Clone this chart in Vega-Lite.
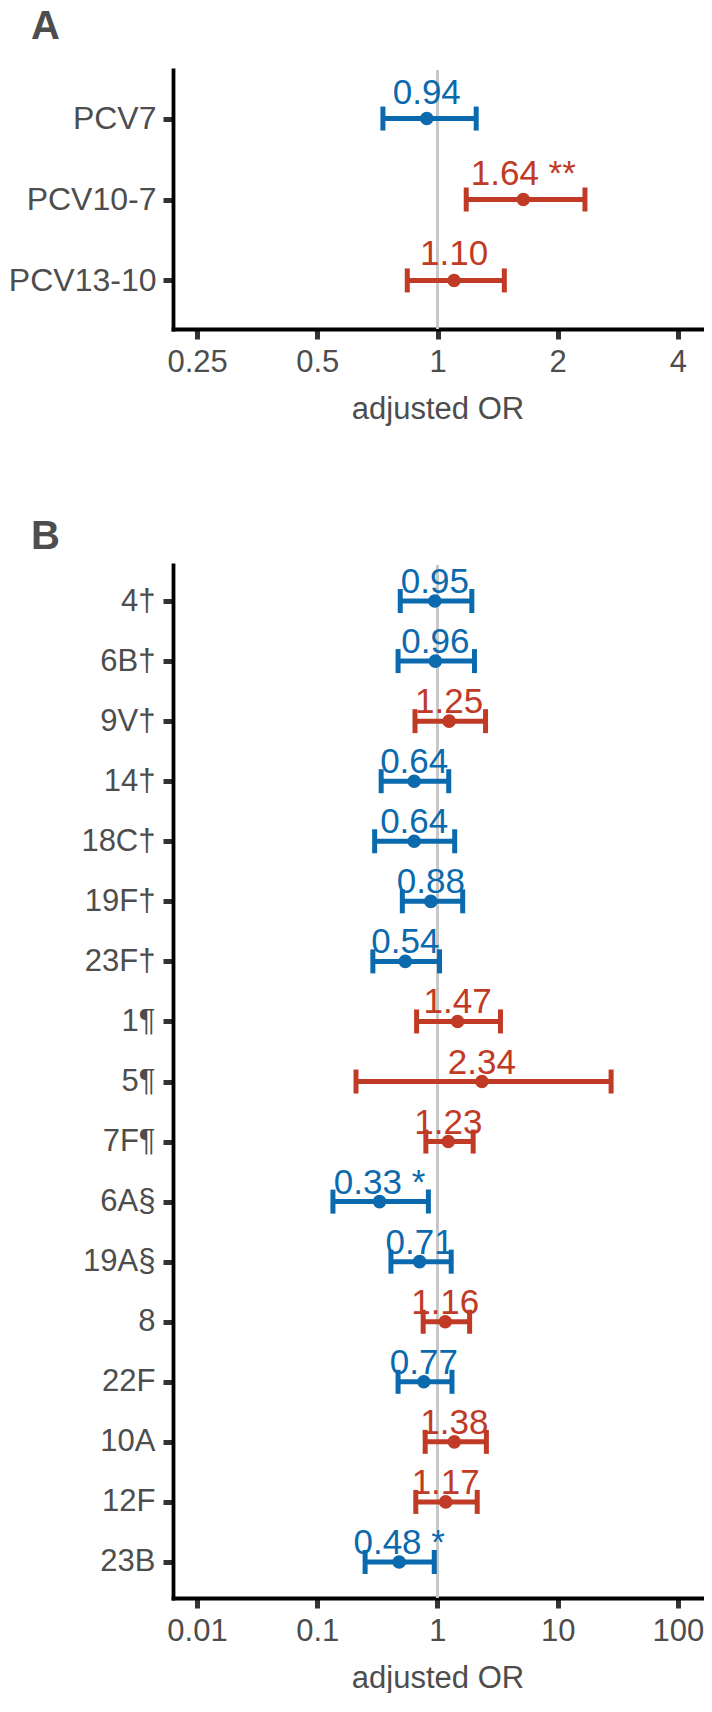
{
  "$schema": "https://vega.github.io/schema/vega-lite/v6.json",
  "background": "white",
  "padding": {"left": 8, "top": 6, "right": 0, "bottom": 0},
  "spacing": 92,
  "config": {
    "view": {"stroke": null},
    "font": "Liberation Sans",
    "axis": {
      "grid": false,
      "domainColor": "#000000",
      "domainWidth": 3.8,
      "domainCap": "square",
      "tickColor": "#333333",
      "tickWidth": 5,
      "tickSize": 10,
      "labelColor": "#4d4d4d",
      "labelFont": "Liberation Sans",
      "titleColor": "#4d4d4d",
      "titleFont": "Liberation Sans",
      "titleFontWeight": "normal"
    }
  },
  "resolve": {"scale": {"x": "independent", "y": "independent"}},
  "datasets": {
    "a": [
      {"group": "PCV7", "or": 0.94, "lo": 0.73, "hi": 1.25, "label": "0.94", "dir": "decreased"},
      {"group": "PCV10-7", "or": 1.64, "lo": 1.18, "hi": 2.34, "label": "1.64 **", "dir": "increased"},
      {"group": "PCV13-10", "or": 1.10, "lo": 0.84, "hi": 1.47, "label": "1.10", "dir": "increased"}
    ],
    "b": [
      {"group": "4†", "or": 0.95, "lo": 0.49, "hi": 1.93, "label": "0.95", "dir": "decreased"},
      {"group": "6B†", "or": 0.96, "lo": 0.47, "hi": 2.03, "label": "0.96", "dir": "decreased"},
      {"group": "9V†", "or": 1.25, "lo": 0.65, "hi": 2.51, "label": "1.25", "dir": "increased"},
      {"group": "14†", "or": 0.64, "lo": 0.34, "hi": 1.24, "label": "0.64", "dir": "decreased"},
      {"group": "18C†", "or": 0.64, "lo": 0.30, "hi": 1.39, "label": "0.64", "dir": "decreased"},
      {"group": "19F†", "or": 0.88, "lo": 0.51, "hi": 1.62, "label": "0.88", "dir": "decreased"},
      {"group": "23F†", "or": 0.54, "lo": 0.29, "hi": 1.04, "label": "0.54", "dir": "decreased"},
      {"group": "1¶", "or": 1.47, "lo": 0.67, "hi": 3.34, "label": "1.47", "dir": "increased"},
      {"group": "5¶", "or": 2.34, "lo": 0.21, "hi": 27.8, "label": "2.34", "dir": "increased"},
      {"group": "7F¶", "or": 1.23, "lo": 0.80, "hi": 1.98, "label": "1.23", "dir": "increased"},
      {"group": "6A§", "or": 0.33, "lo": 0.135, "hi": 0.84, "label": "0.33 *", "dir": "decreased"},
      {"group": "19A§", "or": 0.71, "lo": 0.41, "hi": 1.30, "label": "0.71", "dir": "decreased"},
      {"group": "8", "or": 1.16, "lo": 0.76, "hi": 1.85, "label": "1.16", "dir": "increased"},
      {"group": "22F", "or": 0.77, "lo": 0.47, "hi": 1.32, "label": "0.77", "dir": "decreased"},
      {"group": "10A", "or": 1.38, "lo": 0.79, "hi": 2.55, "label": "1.38", "dir": "increased"},
      {"group": "12F", "or": 1.17, "lo": 0.66, "hi": 2.14, "label": "1.17", "dir": "increased"},
      {"group": "23B", "or": 0.48, "lo": 0.25, "hi": 0.94, "label": "0.48 *", "dir": "decreased"}
    ]
  },
  "vconcat": [
    {
      "width": 529,
      "height": 259,
      "title": {"text": "A", "anchor": "start", "frame": "group", "dx": -142, "fontSize": 40, "fontWeight": "bold", "color": "#4d4d4d", "font": "Liberation Sans", "baseline": "top", "offset": 22},
      "data": {"name": "a"},
      "layer": [
        {
          "mark": {"type": "rule", "color": "#c8c8c8", "strokeWidth": 3},
          "encoding": {"x": {"datum": 1, "type": "quantitative", "title": "adjusted OR"}}
        },
        {
          "mark": {"type": "rule", "strokeWidth": 5},
          "encoding": {
            "x": {"field": "lo", "type": "quantitative", "title": "adjusted OR",
              "scale": {"type": "log", "base": 2, "domain": [0.2176, 4.595], "nice": false},
              "axis": {"values": [0.25, 0.5, 1, 2, 4], "format": "~g", "labelFontSize": 31, "titleFontSize": 31, "labelPadding": 8, "titlePadding": 17}},
            "x2": {"field": "hi"},
            "y": {"field": "group", "type": "nominal", "sort": null, "title": null,
              "scale": {"type": "point", "padding": 0.6},
              "axis": {"labelFontSize": 32, "labelPadding": 7}},
            "color": {"field": "dir", "type": "nominal", "scale": {"domain": ["decreased", "increased"], "range": ["#0b6aae", "#c03a26"]}, "legend": null}
          }
        },
        {
          "mark": {"type": "tick", "size": 24, "thickness": 5, "opacity": 1},
          "encoding": {
            "x": {"field": "lo", "type": "quantitative", "title": "adjusted OR"},
            "y": {"field": "group", "type": "nominal", "sort": null, "title": null},
            "color": {"field": "dir", "type": "nominal", "legend": null}
          }
        },
        {
          "mark": {"type": "tick", "size": 24, "thickness": 5, "opacity": 1},
          "encoding": {
            "x": {"field": "hi", "type": "quantitative", "title": "adjusted OR"},
            "y": {"field": "group", "type": "nominal", "sort": null, "title": null},
            "color": {"field": "dir", "type": "nominal", "legend": null}
          }
        },
        {
          "mark": {"type": "circle", "size": 185, "opacity": 1},
          "encoding": {
            "x": {"field": "or", "type": "quantitative", "title": "adjusted OR"},
            "y": {"field": "group", "type": "nominal", "sort": null, "title": null},
            "color": {"field": "dir", "type": "nominal", "legend": null}
          }
        },
        {
          "mark": {"type": "text", "fontSize": 35, "dy": -15, "baseline": "alphabetic", "align": "center", "font": "Liberation Sans"},
          "encoding": {
            "x": {"field": "or", "type": "quantitative", "title": "adjusted OR"},
            "y": {"field": "group", "type": "nominal", "sort": null, "title": null},
            "text": {"field": "label"},
            "color": {"field": "dir", "type": "nominal", "legend": null}
          }
        }
      ]
    },
    {
      "width": 529,
      "height": 1033,
      "title": {"text": "B", "anchor": "start", "frame": "group", "dx": -142, "fontSize": 40, "fontWeight": "bold", "color": "#4d4d4d", "font": "Liberation Sans", "baseline": "top", "offset": 7},
      "data": {"name": "b"},
      "layer": [
        {
          "mark": {"type": "rule", "color": "#c8c8c8", "strokeWidth": 3},
          "encoding": {"x": {"datum": 1, "type": "quantitative", "title": "adjusted OR"}}
        },
        {
          "mark": {"type": "rule", "strokeWidth": 5},
          "encoding": {
            "x": {"field": "lo", "type": "quantitative", "title": "adjusted OR",
              "scale": {"type": "log", "base": 10, "domain": [0.00631, 158.5], "nice": false},
              "axis": {"values": [0.01, 0.1, 1, 10, 100], "format": "~g", "labelFontSize": 31, "titleFontSize": 31, "labelPadding": 8, "titlePadding": 17}},
            "x2": {"field": "hi"},
            "y": {"field": "group", "type": "nominal", "sort": null, "title": null,
              "scale": {"type": "point", "padding": 0.6},
              "axis": {"labelFontSize": 31, "labelPadding": 8}},
            "color": {"field": "dir", "type": "nominal", "legend": null}
          }
        },
        {
          "mark": {"type": "tick", "size": 24, "thickness": 5, "opacity": 1},
          "encoding": {
            "x": {"field": "lo", "type": "quantitative", "title": "adjusted OR"},
            "y": {"field": "group", "type": "nominal", "sort": null, "title": null},
            "color": {"field": "dir", "type": "nominal", "legend": null}
          }
        },
        {
          "mark": {"type": "tick", "size": 24, "thickness": 5, "opacity": 1},
          "encoding": {
            "x": {"field": "hi", "type": "quantitative", "title": "adjusted OR"},
            "y": {"field": "group", "type": "nominal", "sort": null, "title": null},
            "color": {"field": "dir", "type": "nominal", "legend": null}
          }
        },
        {
          "mark": {"type": "circle", "size": 185, "opacity": 1},
          "encoding": {
            "x": {"field": "or", "type": "quantitative", "title": "adjusted OR"},
            "y": {"field": "group", "type": "nominal", "sort": null, "title": null},
            "color": {"field": "dir", "type": "nominal", "legend": null}
          }
        },
        {
          "mark": {"type": "text", "fontSize": 35, "dy": -8, "baseline": "alphabetic", "align": "center", "font": "Liberation Sans"},
          "encoding": {
            "x": {"field": "or", "type": "quantitative", "title": "adjusted OR"},
            "y": {"field": "group", "type": "nominal", "sort": null, "title": null},
            "text": {"field": "label"},
            "color": {"field": "dir", "type": "nominal", "legend": null}
          }
        }
      ]
    }
  ]
}
